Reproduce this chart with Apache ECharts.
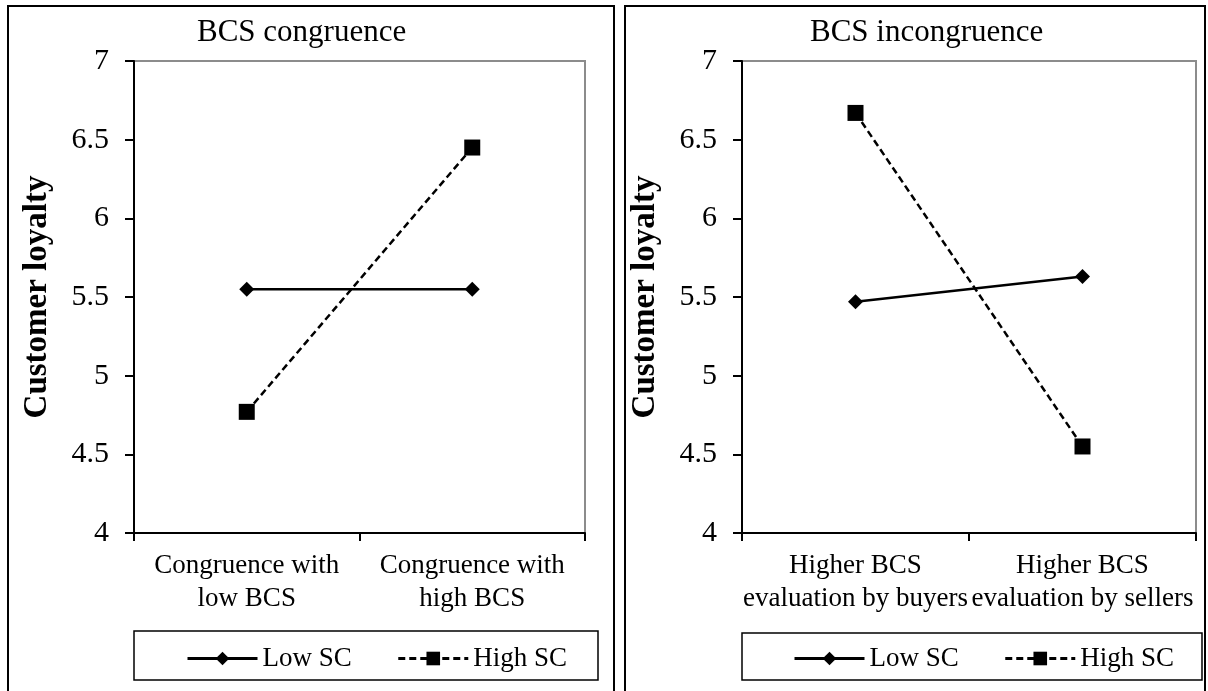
<!DOCTYPE html>
<html>
<head>
<meta charset="utf-8">
<script src="https://cdn.jsdelivr.net/npm/echarts@6/dist/echarts.min.js"></script>
<style>
html, body { margin: 0; padding: 0; background: #fff; }
#chart { width: 1208px; height: 691px; }
</style>
</head>
<body>
<div id="chart"></div>
<script>
// data
const leftCategories = ['Congruence with\nlow BCS', 'Congruence with\nhigh BCS'];
const rightCategories = ['Higher BCS\nevaluation by buyers', 'Higher BCS\nevaluation by sellers'];
const leftLowSC = [5.55, 5.55];
const leftHighSC = [4.77, 6.45];
const rightLowSC = [5.47, 5.63];
const rightHighSC = [6.67, 4.55];
const yMin = 4, yMax = 7, yStep = 0.5;
const panelTitles = ['BCS congruence', 'BCS incongruence'];
const seriesNames = ['Low SC', 'High SC'];

const serif = '"Liberation Serif", "Times New Roman", serif';
const chart = echarts.init(document.getElementById('chart'));

function xAxisFor(cats, gi) {
    return {
        type: 'category', gridIndex: gi, data: cats, boundaryGap: true,
        axisLine: { lineStyle: { color: '#000', width: 2 } },
        axisTick: { show: true, length: 8, lineStyle: { color: '#000', width: 2 } },
        axisLabel: { interval: 0, color: '#000', fontFamily: serif, fontSize: 27, lineHeight: 33, margin: 16 },
        splitLine: { show: false }
    };
}
function yAxisFor(gi) {
    return {
        type: 'value', gridIndex: gi, min: yMin, max: yMax, interval: yStep,
        name: 'Customer loyalty', nameLocation: 'middle', nameGap: 80,
        nameTextStyle: { color: '#000', fontFamily: serif, fontSize: 33, fontWeight: 'bold' },
        axisLine: { show: true, lineStyle: { color: '#000', width: 2 } },
        axisTick: { show: true, length: 9, lineStyle: { color: '#000', width: 2 } },
        axisLabel: { color: '#000', fontFamily: serif, fontSize: 30, margin: 25 },
        splitLine: { show: false }
    };
}
function lowLine(data, gi) {
    return {
        name: seriesNames[0], type: 'line', xAxisIndex: gi, yAxisIndex: gi, data: data,
        symbol: 'diamond', symbolSize: 15, showSymbol: true,
        itemStyle: { color: '#000' }, lineStyle: { color: '#000', width: 2.5, type: 'solid' },
        animation: false
    };
}
function highLine(data, gi) {
    return {
        name: seriesNames[1], type: 'line', xAxisIndex: gi, yAxisIndex: gi, data: data,
        symbol: 'rect', symbolSize: 16, showSymbol: true,
        itemStyle: { color: '#000' }, lineStyle: { color: '#000', width: 2.5, type: [7, 4] },
        animation: false
    };
}
function legendAt(left) {
    return {
        left: left, top: 640, width: 440, itemWidth: 70, itemHeight: 17, itemGap: 45,
        data: seriesNames, selectedMode: false,
        lineStyle: { width: 3 },
        textStyle: { color: '#000', fontFamily: serif, fontSize: 27 }
    };
}

chart.setOption({
    backgroundColor: '#fff',
    title: [
        { text: panelTitles[0], left: 192, top: 12, textStyle: { color: '#000', fontFamily: serif, fontSize: 31, fontWeight: 'normal' } },
        { text: panelTitles[1], left: 805, top: 12, textStyle: { color: '#000', fontFamily: serif, fontSize: 31, fontWeight: 'normal' } }
    ],
    grid: [
        { left: 134, right: 623, top: 61, bottom: 158, show: true, borderColor: '#8c8c8c', borderWidth: 2 },
        { left: 742, right: 12, top: 61, bottom: 158, show: true, borderColor: '#8c8c8c', borderWidth: 2 }
    ],
    xAxis: [xAxisFor(leftCategories, 0), xAxisFor(rightCategories, 1)],
    yAxis: [yAxisFor(0), yAxisFor(1)],
    legend: [legendAt(181), legendAt(788)],
    series: [
        lowLine(leftLowSC, 0), highLine(leftHighSC, 0),
        lowLine(rightLowSC, 1), highLine(rightHighSC, 1)
    ],
    graphic: [
        { type: 'rect', shape: { x: 8, y: 6, width: 606, height: 700 }, style: { fill: 'none', stroke: '#000', lineWidth: 2 } },
        { type: 'rect', shape: { x: 625, y: 6, width: 580, height: 700 }, style: { fill: 'none', stroke: '#000', lineWidth: 2 } },
        { type: 'rect', shape: { x: 134, y: 631, width: 464, height: 49 }, style: { fill: 'none', stroke: '#000', lineWidth: 1.5 } },
        { type: 'rect', shape: { x: 742, y: 633, width: 460, height: 47 }, style: { fill: 'none', stroke: '#000', lineWidth: 1.5 } }
    ]
});
</script>
</body>
</html>
